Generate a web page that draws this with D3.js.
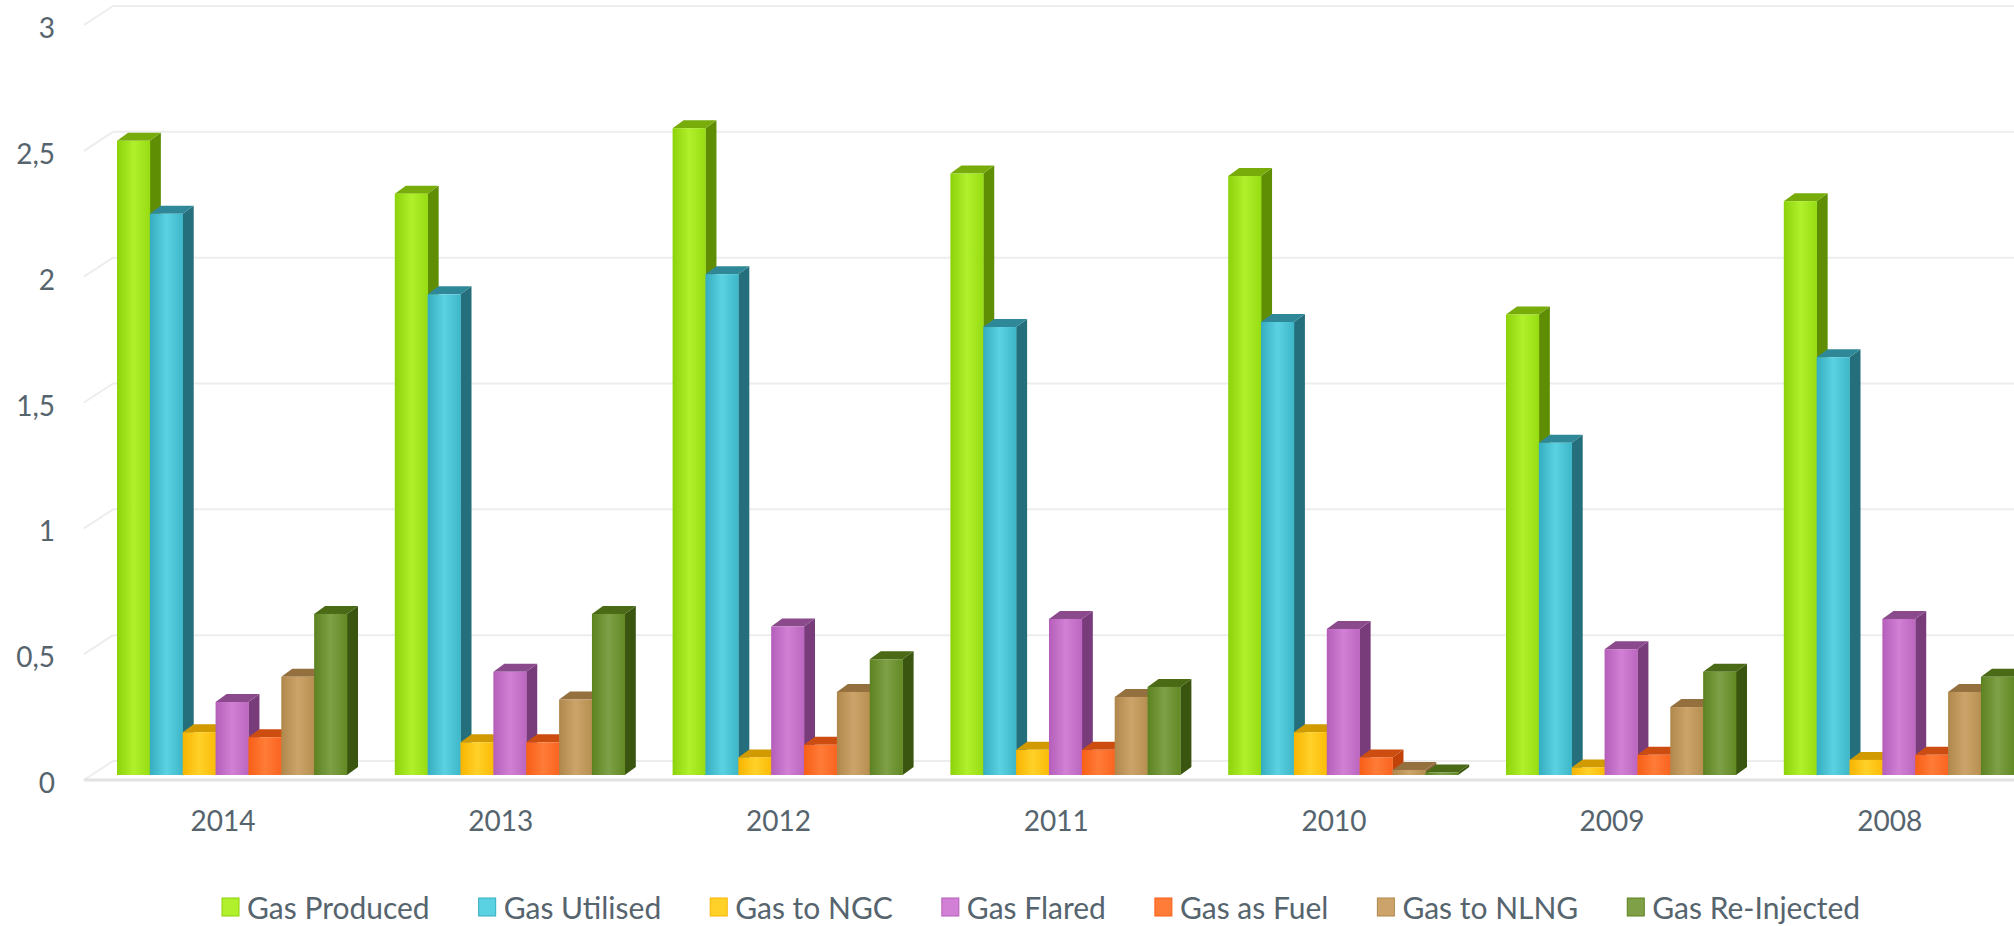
<!DOCTYPE html>
<html>
<head>
<meta charset="utf-8">
<script src="https://cdnjs.cloudflare.com/ajax/libs/d3/7.8.5/d3.min.js"></script>
<style>
  html, body { margin: 0; padding: 0; background: #fff; overflow: hidden; }
  svg { display: block; font-family: "Lato", "Open Sans", sans-serif; }
</style>
</head>
<body>
<svg id="chart"></svg>
<script>
const width = 2014;
const height = 926;

// data
const years = ["2014", "2013", "2012", "2011", "2010", "2009", "2008"];
const seriesNames = ["Gas Produced", "Gas Utilised", "Gas to NGC", "Gas Flared", "Gas as Fuel", "Gas to NLNG", "Gas Re-Injected"];
const gasProduced   = [2.52, 2.31, 2.57, 2.39, 2.38, 1.83, 2.28];
const gasUtilised   = [2.23, 1.91, 1.99, 1.78, 1.80, 1.32, 1.66];
const gasToNGC      = [0.17, 0.13, 0.07, 0.10, 0.17, 0.03, 0.06];
const gasFlared     = [0.29, 0.41, 0.59, 0.62, 0.58, 0.50, 0.62];
const gasAsFuel     = [0.15, 0.13, 0.12, 0.10, 0.07, 0.08, 0.08];
const gasToNLNG     = [0.39, 0.30, 0.33, 0.31, 0.02, 0.27, 0.33];
const gasReInjected = [0.64, 0.64, 0.46, 0.35, 0.01, 0.41, 0.39];
const yTicks = [0, 0.5, 1, 1.5, 2, 2.5, 3];
const yTickLabels = ["0", "0,5", "1", "1,5", "2", "2,5", "3"];

const seriesValues = [gasProduced, gasUtilised, gasToNGC, gasFlared, gasAsFuel, gasToNLNG, gasReInjected];

// front gradient (edge, centre, edge), side, top
const palette = [
  { f: ["#8cd20a", "#b0f02c", "#97dc12"], side: "#5f8e05", top: "#78ac0a" },
  { f: ["#35adc0", "#5ad2e2", "#3db6c8"], side: "#246f7b", top: "#2e8897" },
  { f: ["#f8b400", "#ffd129", "#fbbb06"], side: "#c48d00", top: "#d19a00" },
  { f: ["#b45eb9", "#d180d5", "#bb66bf"], side: "#793c7b", top: "#8a4a8c" },
  { f: ["#f85e16", "#ff7c38", "#fa6420"], side: "#c2430a", top: "#cd4d10" },
  { f: ["#b0874b", "#cca46b", "#b68f50"], side: "#89643a", top: "#95703f" },
  { f: ["#5c8220", "#7fa047", "#628924"], side: "#3a550f", top: "#4a6a16" }
];

const svg = d3.select("#chart").attr("width", width).attr("height", height);

// oblique depth offsets
const wallDx = 29, wallDy = -19;      // floor front -> back wall
const barDx0 = 7.6, barDy0 = -5;      // floor front -> bar front
const barDx = 11, barDy = -8;         // bar depth

const yFloor = d3.scaleLinear().domain([0, 3]).range([780, 25]);
const x = d3.scaleBand().domain(years).range([84, 84 + 7 * 277.8]);
const xs = d3.scaleBand().domain(seriesNames).range([33 - barDx0, 263 - barDx0]);

// gradients
const defs = svg.append("defs");
palette.forEach((p, i) => {
  const g = defs.append("linearGradient").attr("id", "grad" + i)
    .attr("x1", "0").attr("x2", "1").attr("y1", "0").attr("y2", "0");
  g.append("stop").attr("offset", "0%").attr("stop-color", p.f[0]);
  g.append("stop").attr("offset", "50%").attr("stop-color", p.f[1]);
  g.append("stop").attr("offset", "100%").attr("stop-color", p.f[2]);
});

// --- WALL + FLOOR ---
const grid = svg.append("g");
grid.selectAll("line.wall")
  .data(yTicks)
  .join("line")
  .attr("class", "wall")
  .attr("x1", 84 + wallDx).attr("x2", width)
  .attr("y1", d => yFloor(d) + wallDy).attr("y2", d => yFloor(d) + wallDy)
  .attr("stroke", "#ededed").attr("stroke-width", 2);
grid.selectAll("line.stub")
  .data(yTicks)
  .join("line")
  .attr("class", "stub")
  .attr("x1", 84).attr("x2", 84 + wallDx)
  .attr("y1", d => yFloor(d)).attr("y2", d => yFloor(d) + wallDy)
  .attr("stroke", "#ededed").attr("stroke-width", 2);
grid.append("line")
  .attr("x1", 84).attr("x2", width)
  .attr("y1", yFloor(0)).attr("y2", yFloor(0))
  .attr("stroke", "#e2e2e2").attr("stroke-width", 3);

// --- BARS ---
const bars = [];
years.forEach((yr, gi) => {
  seriesNames.forEach((s, si) => {
    bars.push({ year: yr, series: s, si: si, value: seriesValues[si][gi] });
  });
});

const barG = svg.append("g");
const bw = xs.bandwidth();
const bar = barG.selectAll("g.bar")
  .data(bars)
  .join("g")
  .attr("class", "bar");

bar.each(function(d) {
  const g = d3.select(this);
  const x0 = x(d.year) + xs(d.series) + barDx0;
  const y0 = yFloor(0) + barDy0;
  const y1 = yFloor(d.value) + barDy0;
  const x1 = x0 + bw;
  const p = palette[d.si];
  // right side
  g.append("path")
    .attr("d", `M${x1},${y0}L${x1 + barDx},${y0 + barDy}L${x1 + barDx},${y1 + barDy}L${x1},${y1}Z`)
    .attr("fill", p.side);
  // top
  g.append("path")
    .attr("d", `M${x0},${y1}L${x0 + barDx},${y1 + barDy}L${x1 + barDx},${y1 + barDy}L${x1},${y1}Z`)
    .attr("fill", p.top);
  // front
  g.append("rect")
    .attr("x", x0).attr("y", y1)
    .attr("width", bw + 0.3).attr("height", y0 - y1)
    .attr("fill", `url(#grad${d.si})`);
});

// --- AXES LABELS ---
const textColor = "#56646e";
svg.append("g").selectAll("text")
  .data(yTicks)
  .join("text")
  .attr("x", 55)
  .attr("y", d => yFloor(d) + 2)
  .attr("text-anchor", "end")
  .attr("dominant-baseline", "central")
  .attr("font-size", 28)
  .attr("fill", textColor)
  .text((d, i) => yTickLabels[i]);

svg.append("g").selectAll("text")
  .data(years)
  .join("text")
  .attr("x", d => x(d) + x.bandwidth() / 2)
  .attr("y", 820)
  .attr("text-anchor", "middle")
  .attr("dominant-baseline", "central")
  .attr("font-size", 28)
  .attr("fill", textColor)
  .text(d => d);

// --- LEGEND ---
const legend = svg.append("g");
let lx = 222;
seriesNames.forEach((s, i) => {
  legend.append("rect")
    .attr("x", lx).attr("y", 898)
    .attr("width", 17).attr("height", 18)
    .attr("fill", palette[i].f[1])
    .attr("stroke", palette[i].f[0]).attr("stroke-width", 1);
  const t = legend.append("text")
    .attr("x", lx + 25).attr("y", 907)
    .attr("dominant-baseline", "central")
    .attr("font-size", 30)
    .attr("fill", textColor)
    .text(s);
  lx += 25 + t.node().getComputedTextLength() + 49;
});
</script>
</body>
</html>
